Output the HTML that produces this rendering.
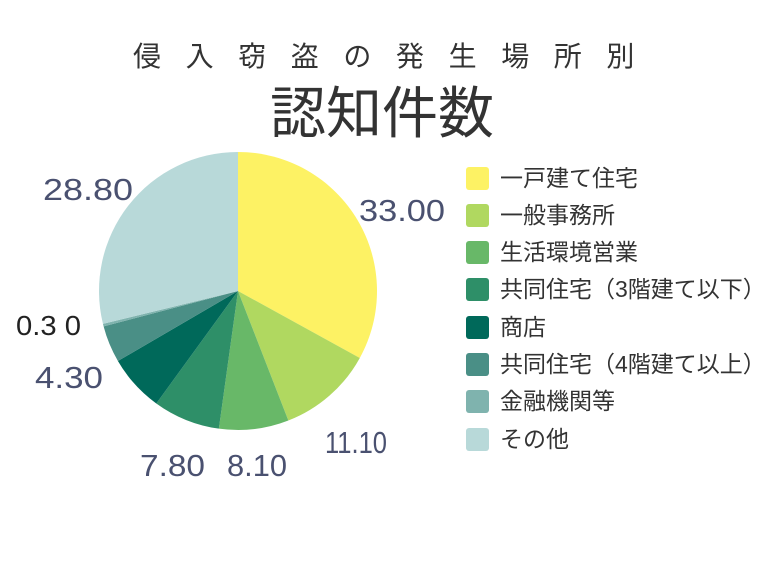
<!DOCTYPE html>
<html><head><meta charset="utf-8"><style>
body{margin:0;background:#fff;width:768px;height:576px;overflow:hidden;position:relative;font-family:"Liberation Sans","Noto Sans CJK JP",sans-serif}
.t1{position:absolute;left:133px;top:40px;font-size:28px;letter-spacing:24.6px;color:#333;white-space:nowrap;line-height:34px}
.t2{position:absolute;left:270px;top:82px;font-size:56px;color:#333;line-height:64px;white-space:nowrap}
.lg{position:absolute;left:466px;font-size:23px;color:#333;line-height:26px;white-space:nowrap}
.lg i{display:inline-block;width:23px;height:23px;border-radius:3px;vertical-align:middle;margin-right:11px;margin-top:-3px}
svg text{font-family:"Liberation Sans",sans-serif;font-size:31px;fill:#4a5170}
</style></head><body>
<div class="t1">侵入窃盗の発生場所別</div>
<div class="t2">認知件数</div>
<svg width="768" height="576" style="position:absolute;left:0;top:0"><g id="p"></g>
<text x="43" y="200" textLength="90" lengthAdjust="spacingAndGlyphs">28.80</text>
<text x="359" y="221" textLength="86" lengthAdjust="spacingAndGlyphs">33.00</text>
<text x="325" y="453" textLength="62" lengthAdjust="spacingAndGlyphs">11.10</text>
<text x="227" y="476" textLength="60" lengthAdjust="spacingAndGlyphs">8.10</text>
<text x="140" y="476" textLength="65" lengthAdjust="spacingAndGlyphs">7.80</text>
<text x="35" y="388" textLength="68" lengthAdjust="spacingAndGlyphs">4.30</text>
<text x="16" y="335" textLength="65" lengthAdjust="spacingAndGlyphs" style="fill:#222;font-size:28px">0.3 0</text>
</svg>
<div class="lg" style="top:165px"><i style="background:#fdf264"></i>一戸建て住宅</div>
<div class="lg" style="top:202px"><i style="background:#b0d860"></i>一般事務所</div>
<div class="lg" style="top:239px"><i style="background:#68b868"></i>生活環境営業</div>
<div class="lg" style="top:276px"><i style="background:#2e8f68"></i>共同住宅（3階建て以下）</div>
<div class="lg" style="top:314px"><i style="background:#00695a"></i>商店</div>
<div class="lg" style="top:351px"><i style="background:#4a8f86"></i>共同住宅（4階建て以上）</div>
<div class="lg" style="top:388px"><i style="background:#7fb3ae"></i>金融機関等</div>
<div class="lg" style="top:426px"><i style="background:#b8d9d9"></i>その他</div>
<script>
var v=[33,11.1,8.1,7.8,6.6,4.3,0.3,28.8],c=["#fdf264","#b0d860","#68b868","#2e8f68","#00695a","#4a8f86","#7fb3ae","#b8d9d9"];
var cx=238,cy=291,r=139,a=0,s="";
function pt(x){var t=x/100*2*Math.PI;return (cx+r*Math.sin(t)).toFixed(2)+","+(cy-r*Math.cos(t)).toFixed(2);}
for(var i=0;i<v.length;i++){var b=a+v[i];s+='<path d="M'+cx+','+cy+' L'+pt(a)+' A'+r+','+r+' 0 '+(v[i]>50?1:0)+' 1 '+pt(b)+' Z" fill="'+c[i]+'"/>';a=b;}
document.getElementById("p").innerHTML=s;
</script>
</body></html>
